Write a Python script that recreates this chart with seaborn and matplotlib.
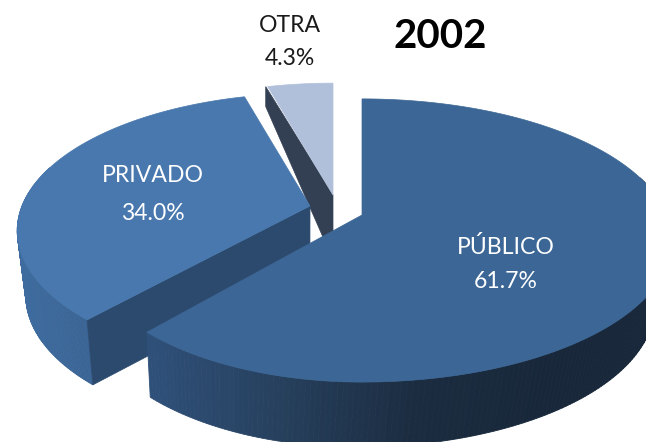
import numpy as np
import seaborn as sns
import matplotlib.pyplot as plt
from matplotlib.patches import Polygon

# datos
categorias = ['PÚBLICO', 'PRIVADO', 'OTRA']
porcentajes = [61.7, 34.0, 4.3]
anio = '2002'

sns.set_theme(style='white')
plt.rcParams['font.family'] = ['Lato', 'DejaVu Sans']

# perspectiva del pastel 3D (pixeles)
K = 0.18
ALTO = 65
VX, CONTRACCION = 233, 0.96
centros = {'PÚBLICO': (362, 215), 'PRIVADO': (310, 206), 'OTRA': (333, 195)}
radios = {'PÚBLICO': (278, 305, 137), 'PRIVADO': (288, 288, 133), 'OTRA': (287, 287, 132)}

col_cara = {'PÚBLICO': '#3c6695', 'PRIVADO': '#4878ae', 'OTRA': '#b1c0da'}
col_borde = {'PÚBLICO': ['#2f5079', '#263f5c', '#1b2c40', '#18283a'],
             'PRIVADO': ['#3f6c9f', '#3a6494'],
             'OTRA': ['#333f52', '#333f52']}
pos_texto = {'PÚBLICO': (506, 264), 'PRIVADO': (153, 195), 'OTRA': (290, 42)}
interlinea = {'PÚBLICO': 1.8, 'PRIVADO': 2.0, 'OTRA': 1.75}


def proyectar(cat, theta):
    cx, cy = centros[cat]
    a_izq, a_der, b = radios[cat]
    u, v = np.sin(theta), np.cos(theta)
    s = 1 / (1 + K * v)
    a = np.where(u > 0, a_der, a_izq)
    return cx + a * u * s, cy - b * v * s


def abajo(x, y, alto=ALTO):
    return VX + (x - VX) * CONTRACCION, y + alto


fig, ax = plt.subplots(figsize=(6.46, 4.42), dpi=100)
ax.set_position([0, 0, 1, 1])
ax.set_xlim(0, 646)
ax.set_ylim(442, 0)
ax.axis('off')

# angulos de cada porcion, en sentido horario desde arriba
cortes = np.cumsum([0] + porcentajes) / sum(porcentajes) * 2 * np.pi
angulos = {c: (cortes[i], cortes[i + 1]) for i, c in enumerate(categorias)}

for zorden, cat in enumerate(['OTRA', 'PRIVADO', 'PÚBLICO']):
    t0, t1 = angulos[cat]
    th = np.linspace(t0, t1, 240)
    x, y = proyectar(cat, th)
    cx, cy = centros[cat]
    xb, yb = abajo(x, y)

    # pared curva, un color por tramo segun x (solo la parte de adelante)
    if cat != 'OTRA':
        pal = sns.blend_palette(col_borde[cat], n_colors=100)
        x_min, x_max = (150, 560) if cat == 'PÚBLICO' else (16, 92)
        for i in range(len(th) - 1):
            if np.cos(th[i]) > 0.3:
                continue
            f = np.clip((x[i] - x_min) / (x_max - x_min), 0, 0.999)
            c = pal[int(f * 100)]
            ax.add_patch(Polygon([(x[i], y[i]), (x[i + 1], y[i + 1]), (xb[i + 1], yb[i + 1]), (xb[i], yb[i])],
                                 fc=c, ec=c, lw=0.6, zorder=zorden * 3))

    # pared recta
    cbx, cby = abajo(np.array(cx), np.array(cy))
    if cat == 'PRIVADO':
        ax.add_patch(Polygon([(cx, cy), (x[0], y[0]), (xb[0], yb[0]), (cbx + 3, cby)],
                             fc='#2c4a6e', ec='#2c4a6e', lw=0.5, zorder=zorden * 3 + 1))
    if cat == 'OTRA':
        ax.add_patch(Polygon([(cx, cy), (x[0] - 2, y[0]), (x[0] - 2, y[0] + 20), (cx, cy + ALTO)],
                             fc='#333f52', ec='#333f52', lw=0.5, zorder=zorden * 3 + 1))

    # cara superior
    ax.add_patch(Polygon(np.r_[[(cx, cy)], np.c_[x, y]], fc=col_cara[cat], ec=col_cara[cat],
                         lw=0.5, zorder=zorden * 3 + 2))

for cat, val in zip(categorias, porcentajes):
    color = '#1a1a1a' if cat == 'OTRA' else 'white'
    ax.text(*pos_texto[cat], f'{cat}\n{val:.1f}%', color=color, fontsize=16.6, ha='center', va='center',
            linespacing=interlinea[cat], zorder=20)

ax.text(440, 37, anio, color='black', fontsize=29, fontweight='bold', ha='center', va='center', zorder=20)

fig.savefig('out.png', dpi=100)
